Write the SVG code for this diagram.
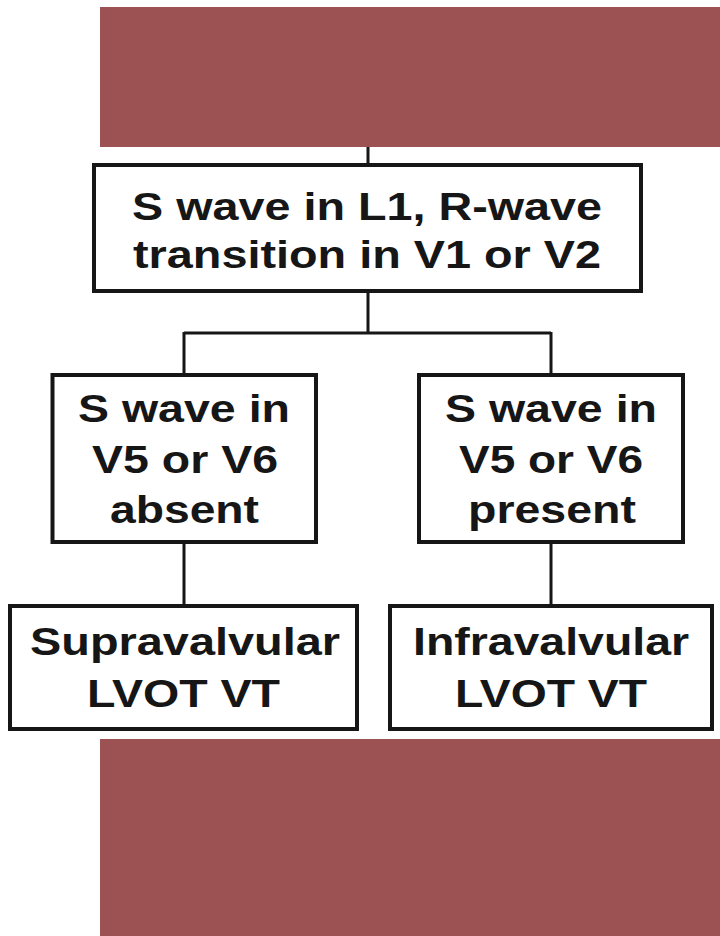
<svg xmlns="http://www.w3.org/2000/svg" width="720" height="936" viewBox="0 0 720 936">
<style>
.box{fill:#fff;stroke:#161616;stroke-width:4}
.conn{stroke:#161616;stroke-width:3;fill:none}
.band{fill:#9c5252}
text{font-family:"Liberation Sans",Arial,sans-serif;font-weight:bold;font-size:38px;fill:#161616;text-anchor:middle}
</style>
<rect width="720" height="936" fill="#fff"/>
<rect class="band" x="100" y="7" width="620" height="140"/>
<rect class="band" x="100" y="739" width="620" height="197"/>
<g id="connectors">
<path class="conn" d="M368 147V165"/>
<path class="conn" d="M368 291V333M184 333H551M184 332V375M551 332V375"/>
<path class="conn" d="M184 542V606M551 542V606"/>
</g>
<g id="n1">
<rect class="box" x="94" y="165" width="547" height="126"/>
<text x="367" y="220" textLength="470" lengthAdjust="spacingAndGlyphs">S wave in L1, R-wave</text>
<text x="367" y="268" textLength="468" lengthAdjust="spacingAndGlyphs">transition in V1 or V2</text>
</g>
<g id="n2">
<rect class="box" x="52.5" y="375" width="263.5" height="167"/>
<text x="184" y="422" textLength="212" lengthAdjust="spacingAndGlyphs">S wave in</text>
<text x="185" y="473" textLength="186" lengthAdjust="spacingAndGlyphs">V5 or V6</text>
<text x="184.5" y="523" textLength="149" lengthAdjust="spacingAndGlyphs">absent</text>
</g>
<g id="n3">
<rect class="box" x="419" y="375" width="264" height="167"/>
<text x="551" y="422" textLength="212" lengthAdjust="spacingAndGlyphs">S wave in</text>
<text x="551" y="473" textLength="184" lengthAdjust="spacingAndGlyphs">V5 or V6</text>
<text x="552" y="523" textLength="168" lengthAdjust="spacingAndGlyphs">present</text>
</g>
<g id="n4">
<rect class="box" x="10" y="606" width="347" height="123"/>
<text x="185" y="655" textLength="310" lengthAdjust="spacingAndGlyphs">Supravalvular</text>
<text x="183.5" y="707" textLength="193" lengthAdjust="spacingAndGlyphs">LVOT VT</text>
</g>
<g id="n5">
<rect class="box" x="390" y="606" width="322" height="123"/>
<text x="551" y="655" textLength="276" lengthAdjust="spacingAndGlyphs">Infravalvular</text>
<text x="551" y="707" textLength="192" lengthAdjust="spacingAndGlyphs">LVOT VT</text>
</g>
</svg>
